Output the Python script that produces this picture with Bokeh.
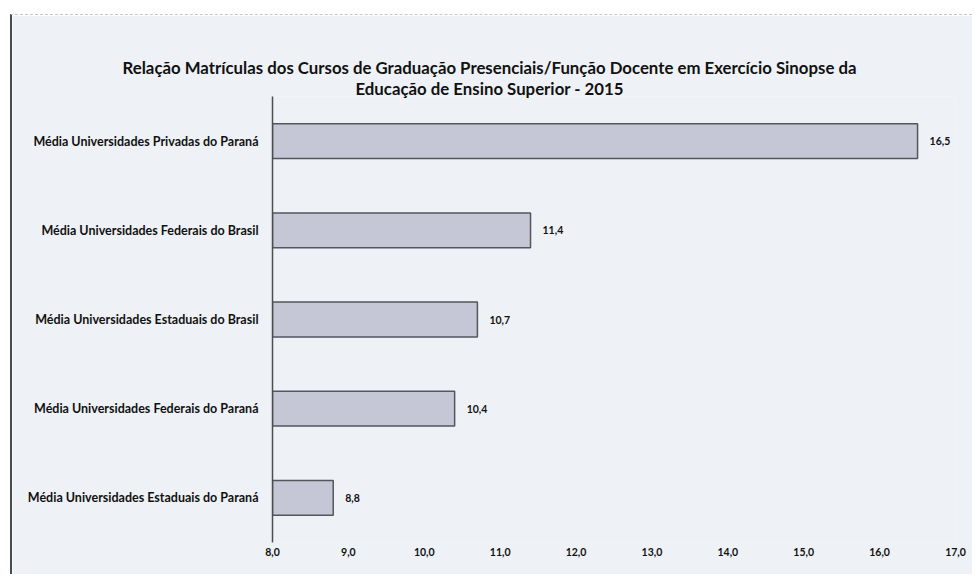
from bokeh.plotting import figure
from bokeh.models import FixedTicker, ColumnDataSource, Range1d, FactorRange, Title
from bokeh.embed import file_html
from bokeh.resources import INLINE
from bokeh.core.properties import value

# ---- data ----
categories = [
    "Média Universidades Privadas do Paraná",
    "Média Universidades Federais do Brasil",
    "Média Universidades Estaduais do Brasil",
    "Média Universidades Federais do Paraná",
    "Média Universidades Estaduais do Paraná",
]
values = [16.5, 11.4, 10.7, 10.4, 8.8]
x_ticks = [8, 9, 10, 11, 12, 13, 14, 15, 16, 17]
x_tick_labels = ["8,0", "9,0", "10,0", "11,0", "12,0", "13,0", "14,0", "15,0", "16,0", "17,0"]
title_line1 = "Relação Matrículas dos Cursos de Graduação Presenciais/Função Docente em Exercício Sinopse da"
title_line2 = "Educação de Ensino Superior - 2015"

# ---- styling ----
W, H = 962, 560
BG = "#eef1f6"
FONT = "Lato"
FL, FR, FT, FB = 260, 19, 81, 33  # frame borders

value_labels = [f"{v:.1f}".replace(".", ",") for v in values]
src = ColumnDataSource(dict(cat=categories, val=values, lbl=value_labels))

p = figure(width=W, height=H,
           y_range=FactorRange(factors=list(reversed(categories))),
           x_range=Range1d(x_ticks[0], x_ticks[-1]),
           output_backend="svg", toolbar_location=None,
           min_border_left=FL, min_border_right=FR,
           min_border_top=FT, min_border_bottom=FB)
p.styles = {"border-left": "2px solid #4a4a4a", "border-top": "1px dashed #c3c7cf",
            "margin-left": "10px", "margin-top": "14px"}
p.background_fill_color = BG
p.border_fill_color = BG
p.outline_line_color = None
p.grid.visible = False

p.hbar(y="cat", left=x_ticks[0], right="val", height=0.39, source=src,
       fill_color="#c6c7d6", line_color="#55555e", line_width=1.5)

p.text(x="val", y="cat", text="lbl", source=src, x_offset=12,
       text_baseline="middle", text_align="left",
       text_font=value(FONT), text_font_style="bold", text_font_size="10.5px",
       text_color="#111111")

# x axis
xa = p.xaxis[0]
xa.ticker = FixedTicker(ticks=x_ticks)
xa.major_label_overrides = {t: l for t, l in zip(x_ticks, x_tick_labels)}
xa.axis_line_color = None
xa.major_tick_line_color = None
xa.minor_tick_line_color = None
xa.major_tick_out = 0
xa.major_label_standoff = 5
xa.major_label_text_font = FONT
xa.major_label_text_font_style = "bold"
xa.major_label_text_font_size = "10.5px"
xa.major_label_text_color = "#111111"

# y axis
ya = p.yaxis[0]
ya.axis_line_color = "#4d4d4d"
ya.axis_line_width = 1.5
ya.major_tick_line_color = None
ya.minor_tick_line_color = None
ya.major_tick_out = 0
ya.major_label_standoff = 14
ya.major_label_text_font = FONT
ya.major_label_text_font_style = "bold"
ya.major_label_text_font_size = "12.5px"
ya.major_label_text_color = "#111111"

# two-line title, left offsets relative to the frame's left edge
p.add_layout(Title(text=title_line2, align="left", offset=83, standoff=-4,
                   text_font=FONT, text_font_style="bold", text_font_size="16.8px",
                   text_color="#111111"), "above")
p.add_layout(Title(text=title_line1, align="left", offset=-150, standoff=0,
                   text_font=FONT, text_font_style="bold", text_font_size="16.8px",
                   text_color="#111111"), "above")

open("out.html", "w").write(file_html(p, INLINE))
